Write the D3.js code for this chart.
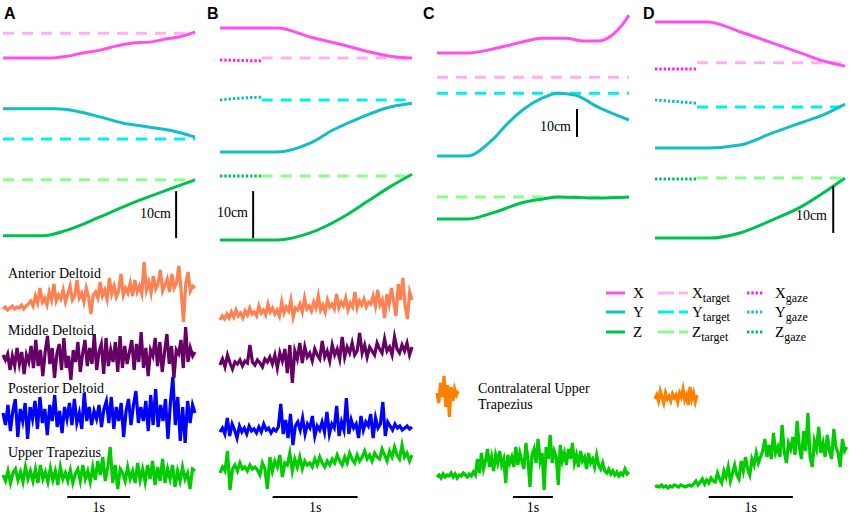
<!DOCTYPE html>
<html><head><meta charset="utf-8">
<script src="https://cdn.jsdelivr.net/npm/d3@7"></script>
<style>body{margin:0;background:#fff}svg{display:block}</style>
</head><body>
<svg id="c" width="850" height="515"></svg>
<script>
// ---------- Hand trajectories (time s, position cm) ----------
const A_X = [[0,38.7],[0.70,38.7],[1.02,39.1],[1.27,39.8],[1.54,40.4],[1.81,41.3],[2.06,41.9],[2.33,42.1],[2.60,42.8],[2.86,43.4],[3.05,44.3]];
const A_Y = [[0,27.9],[0.83,27.9],[1.17,27.4],[1.54,26.2],[1.90,24.9],[2.33,24.0],[2.70,23.2],[3.05,21.9]];
const A_Z = [[0,0.9],[0.63,0.9],[1.02,2.1],[1.54,4.9],[2.06,7.9],[2.60,10.6],[3.05,12.8]];
const A_Xt = [[0,44.0],[3.05,44.0]], A_Yt = [[0,21.5],[3.05,21.5]], A_Zt = [[0,12.8],[3.05,12.8]];

const B_X = [[0,45.1],[0.67,45.1],[1.06,43.2],[1.45,41.5],[1.76,40.0],[2.0,39.1],[2.26,38.7]];
const B_Y = [[0,18.7],[0.67,18.7],[1.06,20.6],[1.33,23.4],[1.65,26.0],[1.96,28.1],[2.26,29.1]];
const B_Z = [[0,0],[0.67,0],[1.06,1.5],[1.45,4.9],[1.76,8.5],[2.0,11.3],[2.26,14.0]];
const B_Xt = [[0.49,38.7],[2.26,38.7]], B_Yt = [[0.49,29.8],[2.26,29.8]], B_Zt = [[0.49,13.6],[2.26,13.6]];
const B_Xg = [[0,38.3],[0.49,38.1]], B_Yg = [[0,29.8],[0.25,30.2],[0.49,30.4]], B_Zg = [[0,13.6],[0.49,13.6]];

const C_X = [[0,66.8],[0.75,66.8],[1.375,68.2],[2.025,70.4],[2.625,72.1],[3.2,72.1],[3.7,71.1],[4.025,71.1],[4.375,73.2],[4.625,76.8],[4.8,80.4]];
const C_Y = [[0,30.0],[0.75,30.0],[1.375,35.7],[1.775,41.8],[2.2,47.1],[2.625,50.7],[3.025,52.5],[3.45,51.8],[4.025,47.5],[4.8,42.9]];
const C_Z = [[0,7.5],[0.75,7.5],[1.375,9.6],[2.2,13.6],[2.625,14.6],[3.025,15.4],[4.025,15.0],[4.8,15.4]];
const C_Xt = [[0,58.2],[4.8,58.2]], C_Yt = [[0,52.5],[4.8,52.5]], C_Zt = [[0,15.4],[4.8,15.4]];

const D_X = [[0,46.4],[0.63,46.4],[1.01,44.3],[1.40,41.9],[1.73,39.8],[2.0,38.1],[2.26,37.0]];
const D_Y = [[0,19.6],[0.63,19.6],[1.01,20.2],[1.40,22.8],[1.73,24.9],[2.0,26.6],[2.26,28.9]];
const D_Z = [[0,0.4],[0.63,0.4],[1.01,1.5],[1.40,4.3],[1.73,7.0],[2.0,10.0],[2.26,13.2]];
const D_Xt = [[0.5,37.7],[2.26,37.7]], D_Yt = [[0.5,28.3],[2.26,28.3]], D_Zt = [[0.5,13.2],[2.26,13.2]];
const D_Xg = [[0,36.4],[0.5,36.4]], D_Yg = [[0,29.8],[0.5,29.1]], D_Zg = [[0,13.0],[0.5,13.0]];

// ---------- EMG traces (arbitrary units, evenly sampled over trace duration) ----------
const A_ant = [1,3,0,2,4,1,3,2,5,1,4,6, 9,4,14,7,22,8,12,5,18,10,26,9,15, 11,20,8,16,24,10,14,30,12,17,8,22,13,-4,15, 18,12,28,14,20,11,32,16,24,13,19,36,15,22,17,27,14,30,18, 24,16,48,20,28,17,34,21,26,40,19,25,31,18,36,22,27,44,20,-12,26,38,19,24,22];
const A_mid = [5,0,6,-10,4,-6,12,-4,8,-14,5,-2,14,-8,20,-6,10,-16,8,24,-4,12,-18,6,16,-10,22,-8,4,-20,10,-2,18,-12,6,20,-6,12,-4,26,-10,8,16,-14,22,-6,10,-2,18,-12,24,-8,14,-4,8,20,-10,16,-2,28,-8,12,-16,10,4,22,-6,18,-12,8,26,-4,14,-18,10,6,20,-8,33,-2,12,4,8];
const A_post = [4,-8,12,-14,6,18,-20,8,-4,14,-22,10,-2,16,-12,20,-6,8,-18,12,-4,22,-10,6,-16,10,-2,14,-8,18,-6,4,-12,24,-4,10,-8,6,-2,12,-10,8,16,-6,20,-12,10,-4,14,-20,6,18,-8,12,26,-6,10,-4,16,-14,22,-8,28,-10,12,-4,18,-22,14,40,-8,20,-24,10,-26,16,-6,12,4];
const A_ut = [2,-4,6,-6,4,8,-3,5,-5,10,-2,6,-4,8,-6,12,-2,5,-5,9,-3,6,-8,10,-2,4,-4,7,-6,3,8,-4,12,-2,6,-5,10,-3,16,2,20,-4,10,30,-6,12,-12,8,4,-4,10,-2,6,-6,14,-3,8,-5,12,-2,16,-8,10,-4,18,-6,8,-2,12,-10,6,-4,10,-2,4,-12,8,6];

const B_ant = [0,4,1,6,2,8,3,10,4,7,2,9,5,12,6,8,4,14,7,10,5,16,8,12,6,10,4,18,7,13,9,20,3,12,10,16,8,22,11,14,9,18,12,24,10,15,8,20,13,16,11,26,12,18,14,22,10,17,13,28,12,19,15,21,13,18,16,24,14,30,15,20,2,26,16,32,18,4,36,20,42,14,1,28,20];
const B_mid = [0,6,-2,10,2,-4,3,1,5,-1,4,2,20,3,0,5,2,-2,6,3,8,1,10,-3,12,4,16,-8,20,-18,14,6,22,2,18,8,12,4,16,10,6,24,8,14,4,20,10,16,6,28,8,18,12,22,10,14,32,12,20,8,18,14,10,22,16,12,26,14,18,10,28,16,12,20,14,22,10,18];
const B_post = [0,4,-2,14,-4,8,2,-6,6,0,4,-2,6,1,3,-1,5,0,8,2,4,-1,3,1,5,28,-2,12,-6,18,-13,6,10,2,14,-2,8,4,16,-4,6,2,10,0,20,-2,8,4,26,-4,10,2,34,-2,12,4,8,-6,16,2,10,6,18,-6,14,4,8,30,-4,10,6,2,8,4,6,2,4,6,3,5];
const B_ut = [0,6,2,22,-17,4,8,2,10,4,6,2,8,4,6,3,-2,10,4,-16,16,2,12,6,18,-4,10,8,20,2,14,6,16,4,12,8,10,6,14,8,16,10,6,12,8,14,10,18,12,8,16,10,20,14,10,18,12,16,22,14,18,12,20,16,14,24,18,12,22,16,26,18,14,28,16,20,12,18];

const C_ut = [0,2,-1,3,0,2,1,4,0,3,-1,2,1,4,2,0,3,1,5,2, 18,4,24,8,16,28,10,20,6,22,14,26,12,18,-6,22,14,20,10,30,12,24,16,8,34,18,-10,22,28,14,38,16,24,-13,30,18,42,14,26,20,-8,32,16,24,12,28,18,34,14,22,10,26,16,20,8,24,14,18,10,22, 12,8,14,6,4,8,3,6,2,5,1,4,2,8,3,5];
const C_contra = [0,-10,10,-4,17,-14,8,-24,6,-8,4,-2,2];

const D_ut = [0,1,0,2,0,1,-1,1,0,2,1,0,2,1,0,1,2,1, 3,6,2,5,8,3,7,4,9,6,5,14,8,4,16,10,20,6,14,22,12,8,26,16,30,18,12,28,22,34,24,30, 36,48,30,42,28,54,34,40,30,62,36,24,44,38,50,32,66,40,28,56,36,74,30,20,46,38,60,34,44,30,52,36,28,58,40,34,20,48,36,40];
const D_contra = [0,4,-2,8,2,-4,6,0,3,-2,5,1,4,-3,6,2,10,-1,4,-6,12,0,6,-3,4];

// ---------- Labels ----------
const panelLetters = ["A","B","C","D"];
const emgNames = ["Anterior Deltoid","Middle Deltoid","Posterior Deltoid","Upper Trapezius"];
const contraName = ["Contralateral Upper","Trapezius"];
const legendAxes = ["X","Y","Z"];
const scaleCmLabel = "10cm", scaleTimeLabel = "1s";

// ---------- Styling / layout ----------
const COL = {X:"#ff4ff0", Xt:"#ffb0f5", Xg:"#ff20e0", Y:"#14bec6", Yt:"#00f0f0", Yg:"#12bcc0", Z:"#00c050", Zt:"#88ff88", Zg:"#00c058"};
const EMGCOL = {ant:"#ff8050", mid:"#660066", post:"#0000ff", ut:"#00cc00", contra:"#ff8000"};
const serif = "'Liberation Serif','Times New Roman',serif";
const sans = "'Liberation Sans',Arial,sans-serif";
const svg = d3.select("#c");

const panels = [
  {L:"A", x:[3,195], dur:3.05, cm:[0,50], traj:{X:A_X,Y:A_Y,Z:A_Z,Xt:A_Xt,Yt:A_Yt,Zt:A_Zt},
   bar:{t:2.75, cm0:0.4, tx:171, ty:218}, tbar:[1.02,2.02],
   emg:[{v:A_ant,c:"ant",y:310,dur:3.05},{v:A_mid,c:"mid",y:360,dur:3.05},{v:A_post,c:"post",y:417,dur:3.05},{v:A_ut,c:"ut",y:477,dur:3.05}]},
  {L:"B", x:[220,412], dur:2.26, cm:[0,50], traj:{X:B_X,Y:B_Y,Z:B_Z,Xt:B_Xt,Yt:B_Yt,Zt:B_Zt,Xg:B_Xg,Yg:B_Yg,Zg:B_Zg},
   bar:{t:0.39, cm0:0.4, tx:248, ty:217}, tbar:[0.62,1.62],
   emg:[{v:B_ant,c:"ant",y:320,dur:2.26},{v:B_mid,c:"mid",y:365,dur:2.26},{v:B_post,c:"post",y:432,dur:2.26},{v:B_ut,c:"ut",y:473,dur:2.26}]},
  {L:"C", x:[437,629], dur:4.8, cm:[0,84], traj:{X:C_X,Y:C_Y,Z:C_Z,Xt:C_Xt,Yt:C_Yt,Zt:C_Zt},
   bar:{t:3.5, cm0:36.8, tx:571, ty:131}, tbar:[1.9,2.9],
   emg:[{v:C_contra,c:"contra",y:393,dur:0.53},{v:C_ut,c:"ut",y:477,dur:4.8}]},
  {L:"D", x:[655,845], dur:2.26, cm:[0,50], traj:{X:D_X,Y:D_Y,Z:D_Z,Xt:D_Xt,Yt:D_Yt,Zt:D_Zt,Xg:D_Xg,Yg:D_Yg,Zg:D_Zg},
   bar:{t:2.12, cm0:1.5, tx:827, ty:220}, tbar:[0.64,1.64],
   emg:[{v:D_contra,c:"contra",y:399,dur:0.5},{v:D_ut,c:"ut",y:487,dur:2.28}]}
];
const letterX = [4, 207, 423, 643];

const dashT = "11,8", dotG = "2.4,1.9";

panels.forEach((p,i) => {
  const g = svg.append("g");
  const xs = d3.scaleLinear().domain([0,p.dur]).range(p.x);
  const ys = d3.scaleLinear().domain(p.cm).range([240,5]);
  const ln = d3.line().x(d=>xs(d[0])).y(d=>ys(d[1])).curve(d3.curveMonotoneX);

  g.append("text").attr("x",letterX[i]).attr("y",19).attr("font-family",sans).attr("font-weight","bold")
    .attr("font-size",16).text(panelLetters[i]);

  ["X","Y","Z"].forEach(k => {
    if (p.traj[k+"g"]) g.append("path").attr("d",ln(p.traj[k+"g"])).attr("fill","none")
        .attr("stroke",COL[k+"g"]).attr("stroke-width",3).attr("stroke-dasharray",dotG);
    g.append("path").attr("d",ln(p.traj[k+"t"])).attr("fill","none")
        .attr("stroke",COL[k+"t"]).attr("stroke-width",3).attr("stroke-dasharray",dashT);
  });
  ["X","Y","Z"].forEach(k => {
    g.append("path").attr("d",ln(p.traj[k])).attr("fill","none")
        .attr("stroke",COL[k]).attr("stroke-width",3);
  });

  // 10 cm scale bar
  g.append("line").attr("x1",xs(p.bar.t)).attr("x2",xs(p.bar.t))
    .attr("y1",ys(p.bar.cm0)).attr("y2",ys(p.bar.cm0+10)).attr("stroke","#000").attr("stroke-width",2);
  g.append("text").attr("x",p.bar.tx).attr("y",p.bar.ty).attr("text-anchor","end")
    .attr("font-family",serif).attr("font-size",14).text(scaleCmLabel);

  // EMG
  p.emg.forEach(e => {
    const n = e.v.length;
    const ex = d3.scaleLinear().domain([0,n-1]).range([0,e.dur]);
    const ey = d3.scaleLinear().domain([0,50]).range([e.y, e.y-50]);
    const el = d3.line().x((d,j)=>xs(ex(j))).y(d=>ey(d));
    g.append("path").attr("d",el(e.v)).attr("fill","none").attr("stroke",EMGCOL[e.c])
      .attr("stroke-width",3.2).attr("stroke-linejoin","miter").attr("stroke-miterlimit",6);
  });

  // 1 s bar
  g.append("line").attr("x1",xs(p.tbar[0])).attr("x2",xs(p.tbar[1])).attr("y1",497).attr("y2",497)
    .attr("stroke","#000").attr("stroke-width",2);
  g.append("text").attr("x",(xs(p.tbar[0])+xs(p.tbar[1]))/2).attr("y",512).attr("text-anchor","middle")
    .attr("font-family",serif).attr("font-size",14).text(scaleTimeLabel);
});

// EMG names (panel A)
const nameY = [278,335,393,457];
emgNames.forEach((s,i)=> svg.append("text").attr("x",8).attr("y",nameY[i]).attr("font-family",serif)
  .attr("font-size",14).text(s));
contraName.forEach((s,i)=> svg.append("text").attr("x",478).attr("y",393+i*16).attr("font-family",serif)
  .attr("font-size",14).text(s));

// Legend
const legY = [293,312,332];
legendAxes.forEach((k,i)=>{
  const y = legY[i];
  svg.append("line").attr("x1",606).attr("x2",625).attr("y1",y).attr("y2",y).attr("stroke",COL[k]).attr("stroke-width",3);
  svg.append("text").attr("x",633).attr("y",y+5).attr("font-family",serif).attr("font-size",15).text(k);
  svg.append("line").attr("x1",658).attr("x2",688).attr("y1",y).attr("y2",y).attr("stroke",COL[k+"t"])
    .attr("stroke-width",3).attr("stroke-dasharray","16,5");
  const t1 = svg.append("text").attr("x",692).attr("y",y+5).attr("font-family",serif).attr("font-size",15);
  t1.append("tspan").text(k);
  t1.append("tspan").attr("dy",4).attr("font-size",12).text("target");
  svg.append("line").attr("x1",747).attr("x2",764).attr("y1",y).attr("y2",y).attr("stroke",COL[k+"g"])
    .attr("stroke-width",3).attr("stroke-dasharray",dotG);
  const t2 = svg.append("text").attr("x",775).attr("y",y+5).attr("font-family",serif).attr("font-size",15);
  t2.append("tspan").text(k);
  t2.append("tspan").attr("dy",4).attr("font-size",12).text("gaze");
});
</script>
</body></html>
